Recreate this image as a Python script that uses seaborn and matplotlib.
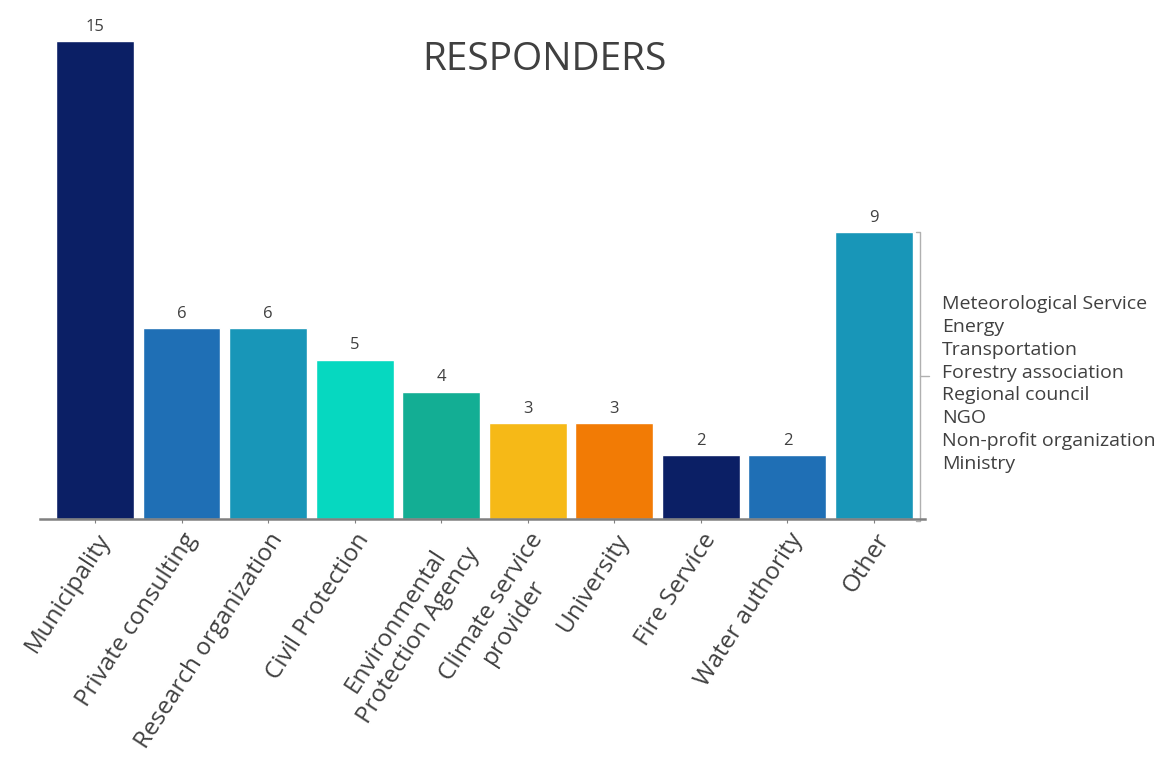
import matplotlib
matplotlib.use("Agg")
import matplotlib.pyplot as plt
import seaborn as sns
import pandas as pd

categories = ["Municipality", "Private consulting", "Research organization", "Civil Protection",
              "Environmental\nProtection Agency", "Climate service\nprovider", "University",
              "Fire Service", "Water authority", "Other"]
values = [15, 6, 6, 5, 4, 3, 3, 2, 2, 9]
colors = ["#0b1f65", "#1f6fb5", "#1896b8", "#06d8c0", "#13ae94",
          "#f6b917", "#f27b05", "#0b1f65", "#1f6fb5", "#1896b8"]
other_items = ["Meteorological Service", "Energy", "Transportation", "Forestry association",
               "Regional council", "NGO", "Non-profit organization", "Ministry"]

sns.set_style("white")
plt.rcParams["font.family"] = ["Open Sans", "DejaVu Sans"]

df = pd.DataFrame({"cat": categories, "val": values})
fig = plt.figure(figsize=(11.68, 7.64), dpi=100)
ax = fig.add_axes([0.0342, 0.3207, 0.7578, 0.667])
sns.barplot(data=df, x="cat", y="val", hue="cat", palette=colors, width=0.9,
            legend=False, ax=ax, saturation=1)

txt = "#404040"
for i, v in enumerate(values):
    ax.text(i, v + 0.2, str(v), ha="center", va="bottom", fontsize=12, color=txt)

ax.set_xlim(-0.636, 9.59)
ax.set_ylim(0, 16)
ax.set_xlabel("")
ax.set_ylabel("")
ax.set_yticks([])
for s in ["top", "right", "left"]:
    ax.spines[s].set_visible(False)
ax.spines["bottom"].set_color("#808080")
ax.spines["bottom"].set_linewidth(1.8)
ax.tick_params(axis="x", length=3, color="#808080", bottom=True, pad=4)
ax.set_xticks(range(len(categories)))
ax.set_xticklabels(categories, rotation=57, ha="right", rotation_mode="anchor",
                   fontsize=17.5, color=txt, multialignment="center")

fig.text(0.466, 0.921, "RESPONDERS", ha="center", va="center", fontsize=28, color=txt)

# bracket for "Other"
bx = 9.53
ax.plot([bx - 0.05, bx, bx, bx - 0.05], [9, 9, -0.05, -0.05], color="#b0b0b0",
        lw=1, clip_on=False)
ax.plot([bx, bx + 0.1], [4.49, 4.49], color="#b0b0b0", lw=1, clip_on=False)
ax.text(bx + 0.26, 4.24, "\n".join(other_items), ha="left", va="center",
        fontsize=14, color=txt, linespacing=1.34, clip_on=False)

fig.savefig("out.png", dpi=100)
